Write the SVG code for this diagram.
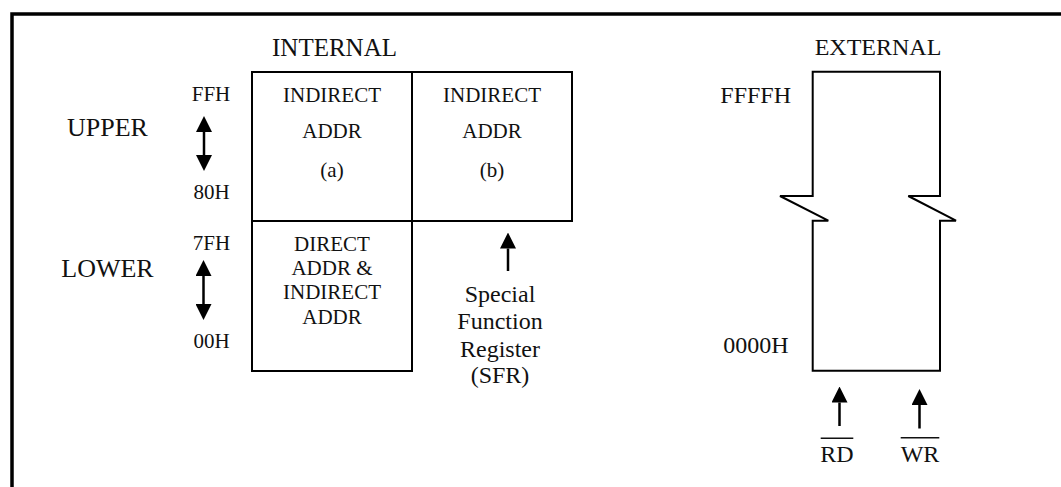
<svg xmlns="http://www.w3.org/2000/svg" width="1061" height="487" viewBox="0 0 1061 487">
<style>
text{font-family:"Liberation Serif","Times New Roman",serif;fill:#111;text-anchor:middle}
.s21{font-size:21px}
.s24{font-size:24px}
.s26{font-size:26px}
.box{fill:none;stroke:#000;stroke-width:2}
.arr{stroke:#000;stroke-width:2.5;fill:none}
.ovl{stroke:#111;stroke-width:1.5}
</style>
<defs>
<marker id="ah" viewBox="0 0 16 16" markerWidth="16" markerHeight="16" refX="0" refY="8" markerUnits="userSpaceOnUse" orient="auto-start-reverse">
<path d="M0,0 L16,8 L0,16 Z" fill="#000"/>
</marker>
</defs>
<rect width="1061" height="487" fill="#fff"/>
<path d="M12,495 V14 H1070" fill="none" stroke="#000" stroke-width="3.5"/>

<g id="titles">
<text class="s26" x="334.5" y="55.7" style="font-size:25px">INTERNAL</text>
<text class="s24" x="878" y="55">EXTERNAL</text>
<text class="s26" x="107.5" y="136">UPPER</text>
<text class="s26" x="107.5" y="277.3">LOWER</text>
<text class="s21" x="211" y="100.7">FFH</text>
<text class="s21" x="211.5" y="199">80H</text>
<text class="s21" x="211.5" y="250">7FH</text>
<text class="s21" x="211.5" y="348.3">00H</text>
</g>

<g id="box-a">
<rect class="box" x="252" y="72" width="160" height="149"/>
<text class="s21" x="332" y="101.7">INDIRECT</text>
<text class="s21" x="332" y="137.7">ADDR</text>
<text class="s21" x="332" y="176.5">(a)</text>
</g>

<g id="box-b">
<rect class="box" x="412" y="72" width="160" height="149"/>
<text class="s21" x="492" y="101.7">INDIRECT</text>
<text class="s21" x="492" y="137.7">ADDR</text>
<text class="s21" x="492" y="176.5">(b)</text>
</g>

<g id="box-lower">
<rect class="box" x="252" y="221" width="160" height="150"/>
<text class="s21" x="332" y="250.7">DIRECT</text>
<text class="s21" x="332" y="275">ADDR &amp;</text>
<text class="s21" x="332" y="299.3">INDIRECT</text>
<text class="s21" x="332" y="324">ADDR</text>
</g>

<g id="sfr">
<text class="s24" x="500" y="302">Special</text>
<text class="s24" x="500" y="329.3">Function</text>
<text class="s24" x="500" y="356.7">Register</text>
<text class="s24" x="500" y="383">(SFR)</text>
</g>

<g id="external">
<path class="box" d="M812.7,71.7 H940 V196 H908.3 L956,220.7 H940 V370.7 H812.7 V220.7 H828.3 L780,196 H812.7 Z"/>
<text class="s24" x="755.7" y="103.3">FFFFH</text>
<text class="s24" x="756" y="353.3">0000H</text>
</g>

<g id="rd">
<text class="s24" x="837" y="461.7">RD</text>
<line class="ovl" x1="820.7" y1="438.3" x2="853.3" y2="438.3"/>
</g>

<g id="wr">
<text class="s24" x="920" y="461.7">WR</text>
<line class="ovl" x1="900.7" y1="437.7" x2="939.3" y2="437.7"/>
</g>

<g id="connectors">
<line class="arr" x1="204" y1="132" x2="204" y2="155" marker-start="url(#ah)" marker-end="url(#ah)"/>
<line class="arr" x1="203.5" y1="276" x2="203.5" y2="304" marker-start="url(#ah)" marker-end="url(#ah)"/>
<line class="arr" x1="508" y1="271" x2="508" y2="248.5" marker-end="url(#ah)"/>
<line class="arr" x1="839.5" y1="426" x2="839.5" y2="402.5" marker-end="url(#ah)"/>
<line class="arr" x1="919.5" y1="428.5" x2="919.5" y2="405" marker-end="url(#ah)"/>
</g>
</svg>
